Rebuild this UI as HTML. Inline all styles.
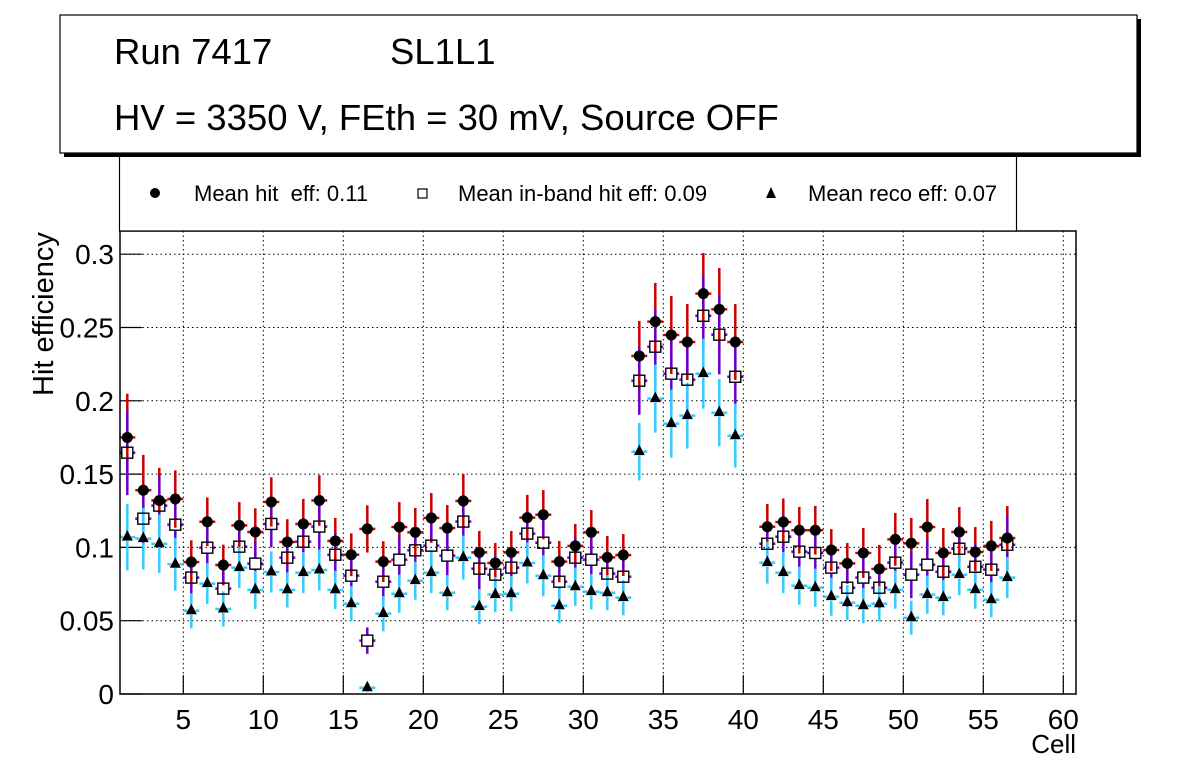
<!DOCTYPE html>
<html><head><meta charset="utf-8">
<style>
body{margin:0;background:#fff;}
svg{display:block;font-family:"Liberation Sans",Arial,sans-serif;}
text{white-space:pre;}
</style></head>
<body>
<svg id="chart" width="1196" height="772" viewBox="0 0 1196 772" xmlns="http://www.w3.org/2000/svg">
  <rect x="0" y="0" width="1196" height="772" fill="#fff"/>
  <g id="grid"></g>
  <g id="axes"></g>
  <g id="plot"></g>
  <rect x="120" y="231" width="956" height="463" fill="none" stroke="#000" stroke-width="1.5"/>
  <g>
    <rect x="119.5" y="150" width="897" height="81" fill="#fff" stroke="#000" stroke-width="1.2"/>
    <g>
      <circle cx="155" cy="193" r="5" fill="#000"/>
      <text x="194" y="201" font-size="22" xml:space="preserve">Mean hit  eff: 0.11</text>
    </g>
    <g>
      <rect x="418" y="189" width="9" height="9" fill="#fff" stroke="#000" stroke-width="1.2"/>
      <text x="458" y="201" font-size="22">Mean in-band hit eff: 0.09</text>
    </g>
    <g>
      <polygon points="771,187 766,198 776,198" fill="#000"/>
      <text x="808" y="201" font-size="22">Mean reco eff: 0.07</text>
    </g>
  </g>
  <g>
    <rect x="64" y="19" width="1077" height="138" fill="#000"/>
    <rect x="60" y="15" width="1077" height="138" fill="#fff" stroke="#000" stroke-width="1.2"/>
    <text x="114" y="64" font-size="36.5">Run 7417</text>
    <text x="390" y="64" font-size="36.5">SL1L1</text>
    <text x="114" y="130" font-size="36.5">HV = 3350 V, FEth = 30 mV, Source OFF</text>
  </g>
  <text x="0" y="0" font-size="29" transform="translate(53,396) rotate(-90)">Hit efficiency</text>
  <text x="1076" y="753" font-size="26" text-anchor="end">Cell</text>
</svg>
<script>
const cells = [1,2,3,4,5,6,7,8,9,10,11,12,13,14,15,16,17,18,19,20,21,22,23,24,25,26,27,28,29,30,31,32,33,34,35,36,37,38,39,41,42,43,44,45,46,47,48,49,50,51,52,53,54,55,56];
const hitEff = [0.175,0.139,0.132,0.133,0.090,0.1175,0.088,0.115,0.1105,0.131,0.1037,0.116,0.132,0.1044,0.095,0.1126,0.0903,0.1139,0.1103,0.1201,0.1132,0.1317,0.0966,0.0894,0.0966,0.1203,0.1223,0.0903,0.101,0.1103,0.0932,0.0948,0.2306,0.254,0.2449,0.2401,0.2731,0.2624,0.2401,0.1141,0.1173,0.1117,0.1117,0.0982,0.0891,0.0962,0.0853,0.1055,0.1028,0.1139,0.0962,0.1105,0.0969,0.101,0.1064];
const hitErr = [0.0298,0.0241,0.0223,0.0196,0.0148,0.0166,0.0139,0.0159,0.0161,0.0168,0.0155,0.0171,0.0173,0.0157,0.0146,0.0161,0.0139,0.017,0.0166,0.017,0.0157,0.0184,0.0146,0.0136,0.0146,0.0155,0.0168,0.0141,0.015,0.0152,0.0146,0.0143,0.0239,0.0264,0.0266,0.0259,0.0277,0.0282,0.0259,0.0155,0.0161,0.0159,0.0166,0.0143,0.0139,0.017,0.0164,0.018,0.0173,0.0191,0.017,0.017,0.017,0.0171,0.0218];
const inbandEff = [0.1646,0.1196,0.1285,0.1155,0.0794,0.0998,0.0719,0.1005,0.0889,0.116,0.093,0.1039,0.1142,0.095,0.0807,0.0364,0.0766,0.0916,0.098,0.1012,0.0944,0.1176,0.0855,0.0814,0.0862,0.1094,0.1032,0.0766,0.093,0.0916,0.0821,0.08,0.2137,0.2369,0.2185,0.2144,0.258,0.2451,0.2164,0.1025,0.1073,0.0971,0.0962,0.0862,0.0725,0.0794,0.0725,0.0896,0.0814,0.0882,0.0834,0.0991,0.0868,0.0848,0.1018];
const inbandErr = [0.029,0.022,0.021,0.019,0.014,0.015,0.013,0.015,0.015,0.016,0.014,0.016,0.016,0.015,0.014,0.009,0.013,0.016,0.016,0.016,0.015,0.017,0.014,0.013,0.014,0.015,0.016,0.013,0.014,0.015,0.014,0.014,0.0232,0.025,0.025,0.024,0.027,0.027,0.025,0.015,0.015,0.015,0.015,0.014,0.013,0.015,0.015,0.017,0.016,0.017,0.016,0.016,0.016,0.016,0.020];
const recoEff = [0.107,0.106,0.1025,0.0885,0.0568,0.0753,0.058,0.0862,0.071,0.0832,0.071,0.0828,0.0846,0.071,0.0616,0.0043,0.0548,0.0684,0.0773,0.0828,0.0691,0.093,0.0596,0.0678,0.0684,0.0894,0.0807,0.0602,0.0732,0.0698,0.0691,0.0657,0.1653,0.2015,0.1844,0.1899,0.2185,0.1919,0.1762,0.0896,0.0828,0.0739,0.0725,0.0664,0.0623,0.0602,0.0616,0.0711,0.052,0.0678,0.0657,0.0814,0.0711,0.0643,0.0794];
const recoErr = [0.0227,0.021,0.02,0.018,0.012,0.014,0.012,0.014,0.013,0.014,0.012,0.014,0.014,0.013,0.012,0.003,0.012,0.013,0.013,0.014,0.012,0.015,0.012,0.012,0.012,0.014,0.014,0.012,0.013,0.012,0.012,0.012,0.0196,0.0232,0.0232,0.0225,0.0239,0.023,0.0218,0.0143,0.014,0.013,0.013,0.013,0.012,0.012,0.012,0.013,0.0116,0.013,0.012,0.014,0.013,0.012,0.014];
const xTicks = [5,10,15,20,25,30,35,40,45,50,55,60];
const yTicks = [0,0.05,0.1,0.15,0.2,0.25,0.3];
const yTickLabels = ["0","0.05","0.1","0.15","0.2","0.25","0.3"];

const NS = "http://www.w3.org/2000/svg";
const FL = 120, FR = 1076, FT = 231, FB = 694;
function xs(v){ return 103.3 + 16 * v; }
function ys(v){ return 694 - 1466 * v; }
function mk(tag, attrs, parent){
  const e = document.createElementNS(NS, tag);
  for (const k in attrs) e.setAttribute(k, attrs[k]);
  parent.appendChild(e);
  return e;
}
const grid = document.getElementById('grid');
const axes = document.getElementById('axes');
const plot = document.getElementById('plot');

xTicks.forEach(t => {
  const x = xs(t);
  const g = mk('line', {x1:x, x2:x, y1:FT, y2:FB, stroke:'#000', 'stroke-width':1, 'stroke-dasharray':'1.5,3'}, grid);
  
  
  const tk = mk('line', {x1:x, x2:x, y1:FB, y2:FB-19, stroke:'#000', 'stroke-width':1.2}, axes);
  
  
  const lb = mk('text', {x:x, y:729, 'font-size':28, 'text-anchor':'middle'}, axes);
  lb.textContent = String(t);
  
  
});
yTicks.forEach((t, i) => {
  const y = ys(t);
  if (i > 0) {
    const g = mk('line', {x1:FL, x2:FR, y1:y, y2:y, stroke:'#000', 'stroke-width':1, 'stroke-dasharray':'1.5,3'}, grid);
    
    
  }
  const tk = mk('line', {x1:FL, x2:FL+22, y1:y, y2:y, stroke:'#000', 'stroke-width':1.2}, axes);
  
  
  const lb = mk('text', {x:114, y:y+10, 'font-size':28, 'text-anchor':'end'}, axes);
  lb.textContent = yTickLabels[i];
  
  
});

function errBar(c, v, e, color, name, gap){
  const x = xs(c + 0.5), y = ys(v);
  const g = mk('g', {stroke:color, 'stroke-width':2.5}, plot);
  
  
  const top = ys(v+e), bot = ys(Math.max(0, v-e));
  if (top < y-gap) mk('line', {x1:x, x2:x, y1:top, y2:y-gap}, g);
  if (bot > y+gap) mk('line', {x1:x, x2:x, y1:y+gap, y2:bot}, g);
  mk('line', {x1:x-8, x2:x-gap, y1:y, y2:y}, g);
  mk('line', {x1:x+gap, x2:x+8, y1:y, y2:y}, g);
}
cells.forEach((c, i) => errBar(c, hitEff[i], hitErr[i], '#cc0000', 'hit-errorbar', 0));
cells.forEach((c, i) => errBar(c, inbandEff[i], inbandErr[i], '#6600cc', 'inband-errorbar', 5.5));
cells.forEach((c, i) => errBar(c, recoEff[i], recoErr[i], '#33ccff', 'reco-errorbar', 4));

cells.forEach((c, i) => {
  const x = xs(c + 0.5);
  const p = mk('circle', {cx:x, cy:ys(hitEff[i]), r:5.5, fill:'#000'}, plot);
  
  
  const s = mk('rect', {x:x-5.5, y:ys(inbandEff[i])-5.5, width:11, height:11, fill:'none', stroke:'#000', 'stroke-width':1.4}, plot);
  
  
  const ty = ys(recoEff[i]);
  const t = mk('polygon', {points:`${x},${ty-7} ${x-5.5},${ty+3.5} ${x+5.5},${ty+3.5}`, fill:'#000'}, plot);
  
  
});
</script>
</body></html>
